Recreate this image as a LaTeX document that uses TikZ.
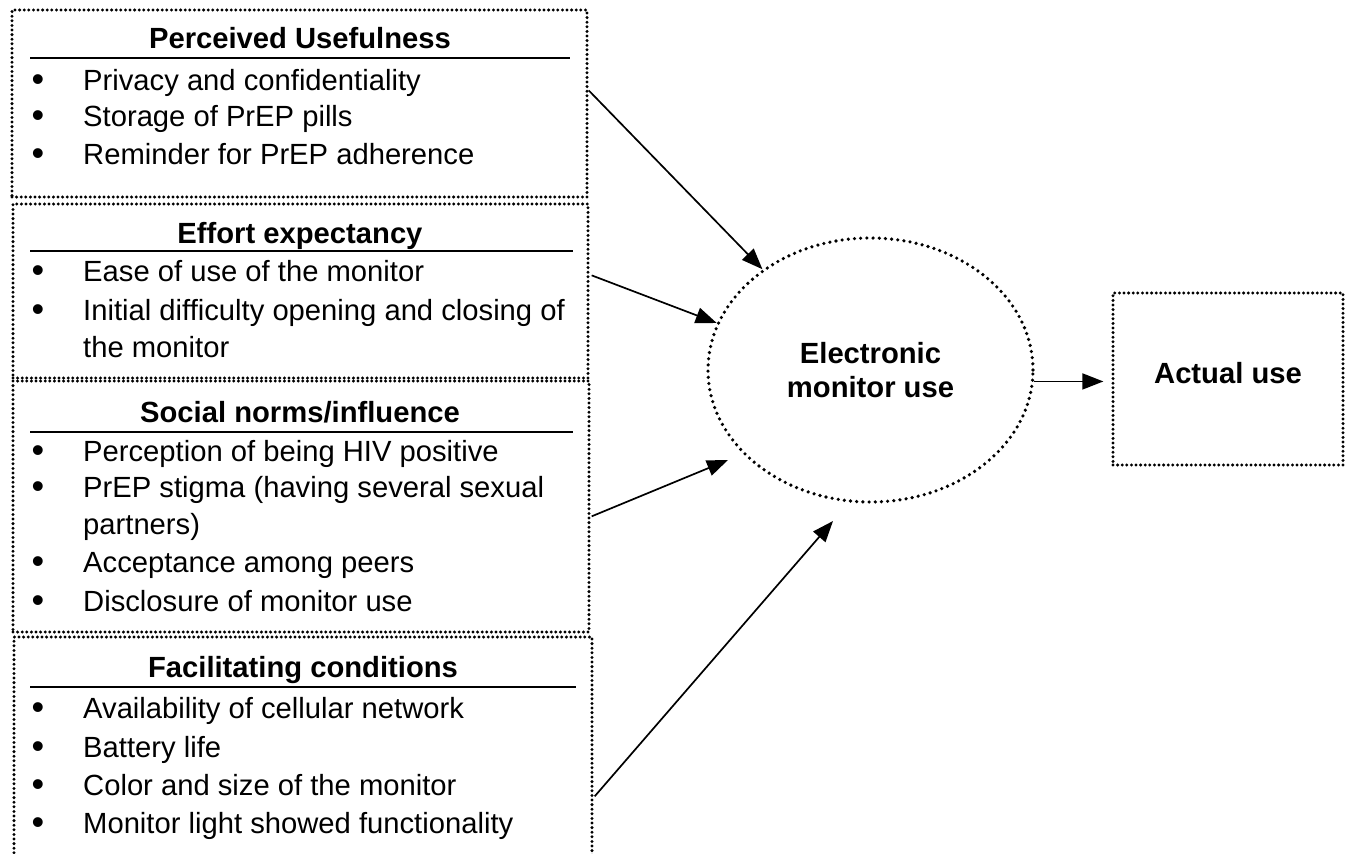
\documentclass[tikz,border=0pt]{standalone}
\usepackage{fontspec}
\setmainfont{Liberation Sans}
\usetikzlibrary{arrows.meta,shapes.geometric,calc}
\newcommand{\bigf}{\fontsize{29.2}{37}\selectfont}
\tikzset{
  dotbox/.style={draw, line width=3.3pt, dash pattern=on 0pt off 4.6pt, line cap=round, inner sep=0pt},
  dotell/.style={ellipse, draw, line width=3.6pt, dash pattern=on 0pt off 6.2pt, line cap=round, inner sep=0pt},
  ttl/.style={anchor=base, inner sep=0pt, font=\bigf\bfseries},
  bul/.style={anchor=base, inner sep=0pt, font=\fontsize{36}{37}\selectfont},
  itm/.style={anchor=base west, inner sep=0pt, font=\bigf},
  rule/.style={line width=1.8pt},
  arr/.style={line width=1.7pt, -{Triangle[length=21pt,width=16pt]}}
}
\begin{document}
\begin{tikzpicture}[x=1pt,y=-1pt]
\useasboundingbox (0,0) rectangle (1347,854);
\fill[white] (0,0) rectangle (1347,854);
% boxes
\node[dotbox, minimum width=575pt, minimum height=187pt] (pu) at (299.5,103.5) {};
\node[dotbox, minimum width=575pt, minimum height=174pt] (ee) at (300.5,291) {};
\node[dotbox, minimum width=576pt, minimum height=251pt] (sn) at (301,506.5) {};
\node[dotbox, minimum width=578pt, minimum height=229pt] (fc) at (303,751.5) {};
\node[dotell, minimum width=325pt, minimum height=264pt, align=center, font=\bigf\bfseries] (em) at (870.5,370) {Electronic\\[-3pt]monitor use};
\node[dotbox, minimum width=230pt, minimum height=172pt] (au) at (1228,379) {};
\node[anchor=center, inner sep=0pt, font=\bigf\bfseries] (aut) at (1228,373) {Actual use};
% box 1
\node[ttl] (t1) at (300,48) {Perceived Usefulness};
\coordinate (u1a) at (30,58); \coordinate (u1b) at (570,58);
\draw[rule] (u1a) -- (u1b);
\node[bul] (b11) at (38,91) {•};  \node[itm] (i11) at (83,90) {Privacy and confidentiality};
\node[bul] (b12) at (38,127) {•}; \node[itm] (i12) at (83,126) {Storage of PrEP pills};
\node[bul] (b13) at (38,165) {•}; \node[itm] (i13) at (83,164) {Reminder for PrEP adherence};
% box 2
\node[ttl] (t2) at (300,243) {Effort expectancy};
\coordinate (u2a) at (30,251); \coordinate (u2b) at (573,251);
\draw[rule] (u2a) -- (u2b);
\node[bul] (b21) at (38,282) {•}; \node[itm] (i21) at (83,281) {Ease of use of the monitor};
\node[bul] (b22) at (38,321) {•}; \node[itm] (i22) at (83,320) {Initial difficulty opening and closing of};
\node[itm] (i23) at (83,357) {the monitor};
% box 3
\node[ttl] (t3) at (300,422) {Social norms/influence};
\coordinate (u3a) at (30,432); \coordinate (u3b) at (573,432);
\draw[rule] (u3a) -- (u3b);
\node[bul] (b31) at (38,462) {•}; \node[itm] (i31) at (83,461) {Perception of being HIV positive};
\node[bul] (b32) at (38,498) {•}; \node[itm] (i32) at (83,497) {PrEP stigma (having several sexual};
\node[itm] (i33) at (83,534) {partners)};
\node[bul] (b34) at (38,573) {•}; \node[itm] (i34) at (83,572) {Acceptance among peers};
\node[bul] (b35) at (38,612) {•}; \node[itm] (i35) at (83,611) {Disclosure of monitor use};
% box 4
\node[ttl] (t4) at (303,677) {Facilitating conditions};
\coordinate (u4a) at (30,687); \coordinate (u4b) at (576,687);
\draw[rule] (u4a) -- (u4b);
\node[bul] (b41) at (38,719) {•}; \node[itm] (i41) at (83,718) {Availability of cellular network};
\node[bul] (b42) at (38,758) {•}; \node[itm] (i42) at (83,757) {Battery life};
\node[bul] (b43) at (38,796) {•}; \node[itm] (i43) at (83,795) {Color and size of the monitor};
\node[bul] (b44) at (38,834) {•}; \node[itm] (i44) at (83,833) {Monitor light showed functionality};
% connectors
\coordinate (s1) at ($(pu.north east)+(0,82)$);
\coordinate (s2) at ($(ee.north east)+(2,73)$);
\coordinate (s3) at ($(sn.north east)+(1,137)$);
\coordinate (s4) at ($(fc.north east)+(1,161)$);
\coordinate (e3) at ($(em.center)+(-142.5,90)$);
\coordinate (e4) at ($(em.center)+(-37.5,151)$);
\draw[arr] (s1) -- (em.137.6);
\draw[arr] (s2) -- (em.163.7);
\draw[arr] (s3) -- (e3);
\draw[arr] (s4) -- (e4);
\draw[arr, shorten >=8pt] (em.-4.6) -- (em.-4.6 -| au.west);
\end{tikzpicture}
\end{document}
